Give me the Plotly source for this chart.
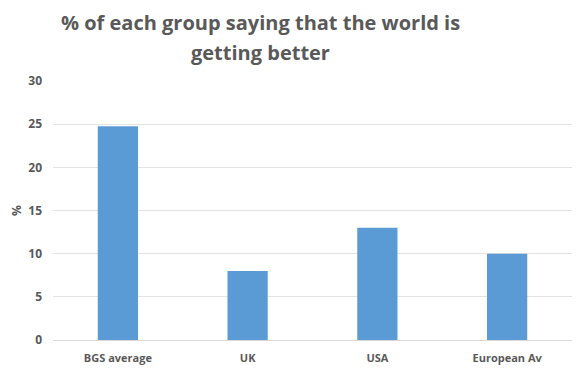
import plotly.graph_objects as go

categories = ["BGS average", "UK", "USA", "European Av"]
values = [24.75, 8, 13, 10]
y_ticks = [0, 5, 10, 15, 20, 25, 30]
title_lines = ["% of each group saying that the world is", "getting better"]

fig = go.Figure(go.Bar(x=categories, y=values, marker=dict(color="#5B9BD5", line=dict(width=0))))

fig.update_layout(
    width=580, height=369,
    margin=dict(l=53, r=8, t=81, b=29, autoexpand=False),
    paper_bgcolor="white", plot_bgcolor="white",
    bargap=0.69,
    showlegend=False,
    font=dict(family="Open Sans", color="#595959"),
)
for i, line in enumerate(title_lines):
    cy = 22 + 30 * i
    fig.add_annotation(
        text=f"<b>{line}</b>",
        xref="paper", yref="paper", x=(260 - 53) / 519, y=1 + (81 - cy) / 259,
        xanchor="center", yanchor="middle", showarrow=False,
        font=dict(family="Open Sans", size=20, color="#595959"),
    )
fig.update_yaxes(
    range=[0, 30], tickvals=y_ticks, ticktext=[f"<b>{v}</b>" for v in y_ticks],
    showgrid=True, gridcolor="#E3E3E3", gridwidth=1, automargin=False,
    zeroline=False, showline=False, ticks="", ticklabelstandoff=10,
    tickfont=dict(size=12, color="#595959"),
    title=dict(text="<b>%</b>", font=dict(size=12, color="#595959"), standoff=4),
)
fig.update_xaxes(
    showline=True, linecolor="#D9D9D9", linewidth=1, ticks="", automargin=False,
    tickvals=categories, ticktext=[f"<b>{c}</b>" for c in categories],
    tickfont=dict(size=11, color="#595959"), ticklabelstandoff=8,
)
fig.write_html("out.html")
